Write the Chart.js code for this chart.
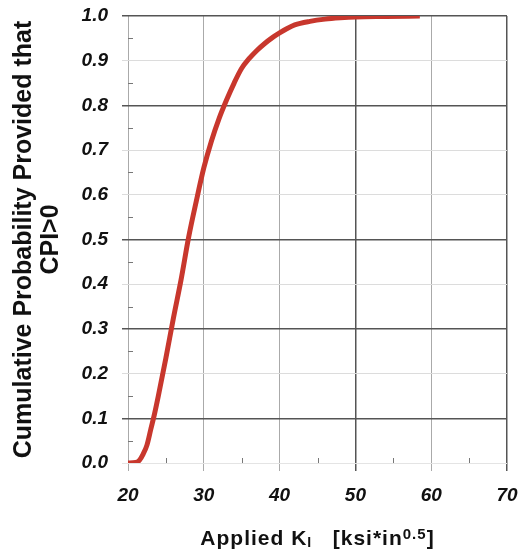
<!DOCTYPE html>
<html>
<head>
<meta charset="utf-8">
<title>Cumulative Probability vs Applied KI</title>
<script src="https://cdn.jsdelivr.net/npm/chart.js@4.4.1/dist/chart.umd.min.js"></script>
<style>
  html, body { margin: 0; padding: 0; background: #fff; }
  #wrap { position: relative; width: 519px; height: 553px; }
</style>
</head>
<body>
<div id="wrap"><canvas id="cdf"></canvas></div>
<script>
// Applied KI [ksi*in^0.5]
const kiValues = [20, 21, 21.5, 22, 22.5, 23, 23.5, 24, 25, 26, 27, 28, 29, 30, 31, 32, 33, 34, 35, 36, 37, 38, 39, 40, 41, 42, 44, 46, 48, 50, 54, 58.5];
// cumulative probability provided that CPI>0
const cumProb = [0, 0.001, 0.006, 0.02, 0.04, 0.075, 0.11, 0.15, 0.235, 0.325, 0.41, 0.505, 0.585, 0.66, 0.72, 0.77, 0.812, 0.85, 0.883, 0.905, 0.923, 0.938, 0.951, 0.962, 0.972, 0.98, 0.988, 0.993, 0.996, 0.998, 0.999, 1.0];

// axis ticks
const xTicks = [20, 30, 40, 50, 60, 70];
const yTicks = [0.0, 0.1, 0.2, 0.3, 0.4, 0.5, 0.6, 0.7, 0.8, 0.9, 1.0];

// gridlines that came out dark in the scan
const darkX = [50, 70];
const darkY = [0.1, 0.3, 0.5, 0.8, 1.0];

const FONT = "'Liberation Sans', Arial, Helvetica, sans-serif";
const RED = "#c8372d";

const isIn = (list, v) => list.some(d => Math.abs(d - v) < 1e-6);

/**
 * Minor tick marks half way between the major ticks (inside the plot)
 */
const minorTicks = {
  id: "minorTicks",
  afterDraw(chart) {
    const { ctx, chartArea, scales } = chart;
    ctx.save();
    ctx.strokeStyle = "#777";
    ctx.lineWidth = 1;
    ctx.beginPath();
    for (let i = 0; i < xTicks.length - 1; i++) {
      const px = Math.round(scales.x.getPixelForValue((xTicks[i] + xTicks[i + 1]) / 2)) + 0.5;
      ctx.moveTo(px, chartArea.bottom);
      ctx.lineTo(px, chartArea.bottom - 5);
    }
    for (let i = 0; i < yTicks.length - 1; i++) {
      const py = Math.round(scales.y.getPixelForValue((yTicks[i] + yTicks[i + 1]) / 2)) + 0.5;
      ctx.moveTo(chartArea.left, py);
      ctx.lineTo(chartArea.left + 5, py);
    }
    ctx.stroke();
    ctx.restore();
  }
};

/**
 * X axis title with subscript / superscript
 */
const xTitle = {
  id: "xTitle",
  afterDraw(chart) {
    const { ctx, chartArea } = chart;
    const big = `bold 21px ${FONT}`;
    const parts = [
      { t: "Applied K", f: big, dy: 0 },
      { t: "I", f: `bold 14px ${FONT}`, dy: 2 },
      { t: "   [ksi*in", f: big, dy: 0 },
      { t: "0.5", f: `bold 15px ${FONT}`, dy: -6 },
      { t: "]", f: big, dy: 0 }
    ];
    ctx.save();
    ctx.fillStyle = "#111";
    ctx.textBaseline = "alphabetic";
    ctx.textAlign = "left";
    if ("letterSpacing" in ctx) ctx.letterSpacing = "1px";
    let total = 0;
    parts.forEach(p => {
      ctx.font = p.f;
      p.w = ctx.measureText(p.t).width;
      total += p.w;
    });
    let x = (chartArea.left + chartArea.right) / 2 - total / 2;
    const base = 545;
    parts.forEach(p => {
      ctx.font = p.f;
      ctx.fillText(p.t, x, base + p.dy);
      x += p.w;
    });
    ctx.restore();
  }
};

const ctx = document.getElementById("cdf").getContext("2d");

new Chart(ctx, {
  type: "line",
  data: {
    datasets: [{
      label: "CDF",
      data: kiValues.map((k, i) => ({ x: k, y: cumProb[i] })),
      borderColor: RED,
      backgroundColor: RED,
      borderWidth: 5,
      pointRadius: 0,
      cubicInterpolationMode: "monotone",
      fill: false
    }]
  },
  options: {
    responsive: true,
    maintainAspectRatio: false,
    animation: false,
    layout: { padding: { top: 16, right: 12, left: 0, bottom: 0 } },
    plugins: {
      legend: { display: false },
      tooltip: { enabled: false }
    },
    scales: {
      x: {
        type: "linear",
        min: 20,
        max: 70,
        afterBuildTicks: scale => { scale.ticks = xTicks.map(v => ({ value: v })); },
        afterFit: scale => {
          scale.height = 90;
          scale.paddingLeft = 0;
          scale.paddingRight = 0;
        },
        border: { display: false },
        grid: {
          color: c => isIn(darkX, c.tick.value) ? "#555" : "#aaa",
          lineWidth: c => isIn(darkX, c.tick.value) ? 1.5 : 1,
          tickLength: 8
        },
        ticks: {
          padding: 13,
          color: "#111",
          font: { family: FONT, size: 19, weight: "bold", style: "italic" },
          callback: v => String(v)
        }
      },
      y: {
        min: 0,
        max: 1,
        afterBuildTicks: scale => { scale.ticks = yTicks.map(v => ({ value: v })); },
        afterFit: scale => {
          scale.width = 128;
          scale.paddingTop = 0;
          scale.paddingBottom = 0;
        },
        border: { display: false },
        grid: {
          color: c => {
            if (c.tick.value === 0) return "#e4e4e4";
            return isIn(darkY, c.tick.value) ? "#555" : "#dcdcdc";
          },
          lineWidth: c => isIn(darkY, c.tick.value) ? 1.5 : 1,
          tickLength: 6
        },
        ticks: {
          padding: 14,
          color: "#111",
          font: { family: FONT, size: 19, weight: "bold", style: "italic" },
          callback: v => Number(v).toFixed(1)
        },
        title: {
          display: true,
          text: ["Cumulative Probability Provided that", "CPI>0"],
          color: "#111",
          padding: { top: 10, bottom: 0 },
          font: { family: FONT, size: 25, weight: "bold", lineHeight: 1.1 }
        }
      }
    }
  },
  plugins: [minorTicks, xTitle]
});
</script>
</body>
</html>
